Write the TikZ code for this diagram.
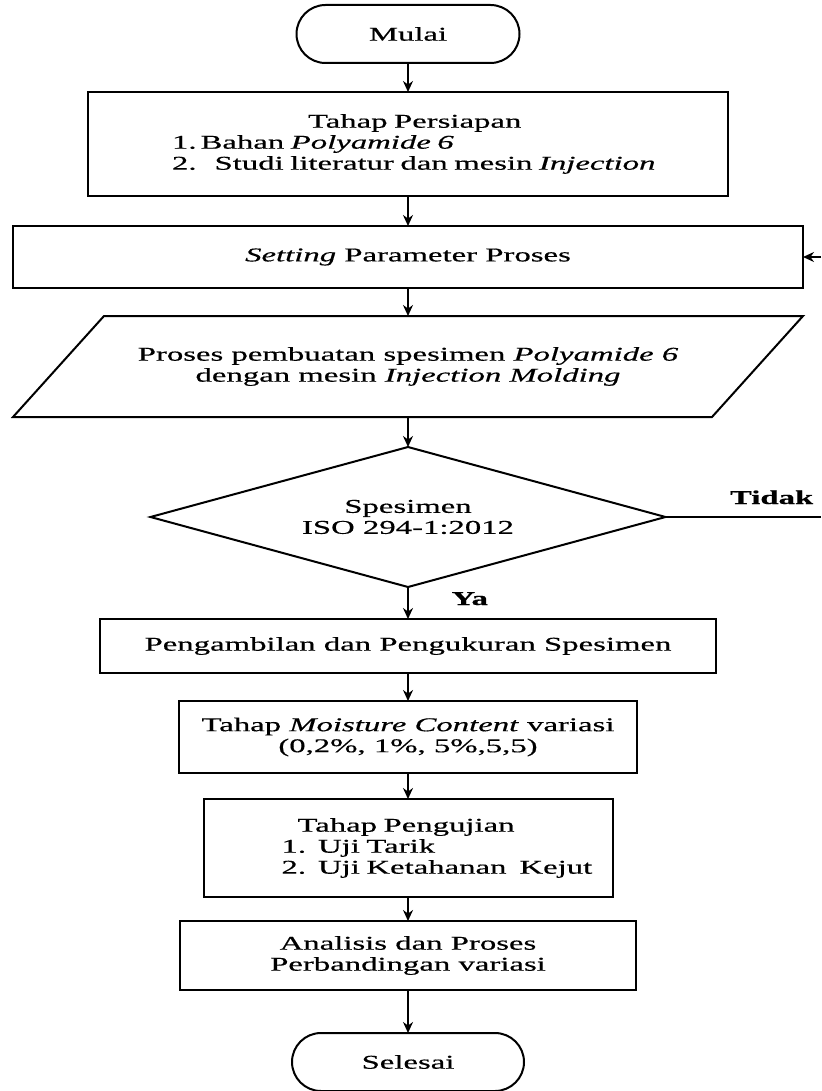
\documentclass[tikz,border=0pt]{standalone}
\usepackage{fontspec}
\setmainfont{Liberation Serif}[FakeStretch=1.68, FakeBold=0.5]
\usepackage{tikz}
\usetikzlibrary{shapes.geometric,shapes.misc,arrows.meta,positioning}

\begin{document}
\begin{tikzpicture}[
    x=1pt, y=1pt,
    base/.style={draw, line width=2pt, outer sep=0pt, inner sep=2pt, align=center, font=\fontsize{19.5pt}{21pt}\selectfont},
    term/.style={base, rounded rectangle, minimum height=58pt},
    box/.style={base, rectangle},
    io/.style={base, rectangle, draw=none, minimum width=699pt, minimum height=101pt},
    dec/.style={base, diamond, aspect=3.68, inner sep=0pt, minimum width=515pt, minimum height=140pt},
    arr/.style={-{Stealth[length=11pt, width=10pt]}, line width=1.7pt},
    lbl/.style={font=\fontsize{19.5pt}{21pt}\selectfont\bfseries}
]
    \useasboundingbox (0,0) rectangle (821,-1091);

    \node [term, minimum width=227pt] (n1) at (408,-34) {Mulai};
    \node [box, below=29pt of n1, minimum width=640pt, minimum height=104pt, text width=636pt, align=left] (n2) {\hspace*{218pt}Tahap Persiapan\\\hspace*{82pt}1.\hspace{4pt}Bahan \textit{Polyamide 6}\\\hspace*{82pt}2.\hspace{18pt}Studi literatur dan mesin \textit{Injection}};
    \node [box, below=30pt of n2, minimum width=790pt, minimum height=62pt] (n3) {\textit{Setting} Parameter Proses};
    \node [io, below=28pt of n3] (n4) {Proses pembuatan spesimen \textit{Polyamide 6}\\dengan mesin \textit{Injection Molding}};
    \draw [line width=2pt] ([xshift=45.5pt]n4.north west) -- ([xshift=45.5pt]n4.north east) -- ([xshift=-45.5pt]n4.south east) -- ([xshift=-45.5pt]n4.south west) -- cycle;
    \node [dec, below=30pt of n4] (n5) {Spesimen\\ISO 294-1:2012};
    \node [box, below=32pt of n5, minimum width=616pt, minimum height=54pt] (n6) {Pengambilan dan Pengukuran Spesimen};
    \node [box, below=28pt of n6, minimum width=458pt, minimum height=72pt] (n7) {Tahap \textit{Moisture Content} variasi\\(0,2\%, 1\%, 5\%,5,5)};
    \node [box, below=26pt of n7, minimum width=409pt, minimum height=98pt, text width=405pt, align=left] (n8) {\hspace*{92pt}Tahap Pengujian\\\hspace*{76pt}1.\hspace{12pt}Uji Tarik\\\hspace*{76pt}2.\hspace{12pt}Uji Ketahanan\ \ Kejut};
    \node [box, below=24pt of n8, minimum width=456pt, minimum height=69pt] (n9) {Analisis dan Proses\\Perbandingan variasi};
    \node [term, below=43pt of n9, minimum width=236pt] (n10) {Selesai};

    \node [lbl, anchor=base west] (tidak) at ([xshift=61pt, yshift=13pt]n5.east) {Tidak};
    \node [lbl, anchor=base west] (ya) at ([xshift=40pt, yshift=-18pt]n5.south) {Ya};

    \draw [arr] (n1) -- (n2);
    \draw [arr] (n2) -- (n3);
    \draw [arr] (n3) -- (n4);
    \draw [arr] (n4) -- (n5);
    \draw [arr] (n5) -- (n6);
    \draw [arr] (n6) -- (n7);
    \draw [arr] (n7) -- (n8);
    \draw [arr] (n8) -- (n9);
    \draw [arr] (n9) -- (n10);

    % jalur kembali (terpotong di tepi kanan)
    \coordinate (edge) at (821,0);
    \coordinate (tidakR) at (n5.east -| edge);
    \coordinate (setR) at (n3.east -| edge);
    \draw [line width=2pt] (n5.east) -- (tidakR);
    \draw [arr] (setR) -- (n3.east);
\end{tikzpicture}
\end{document}
